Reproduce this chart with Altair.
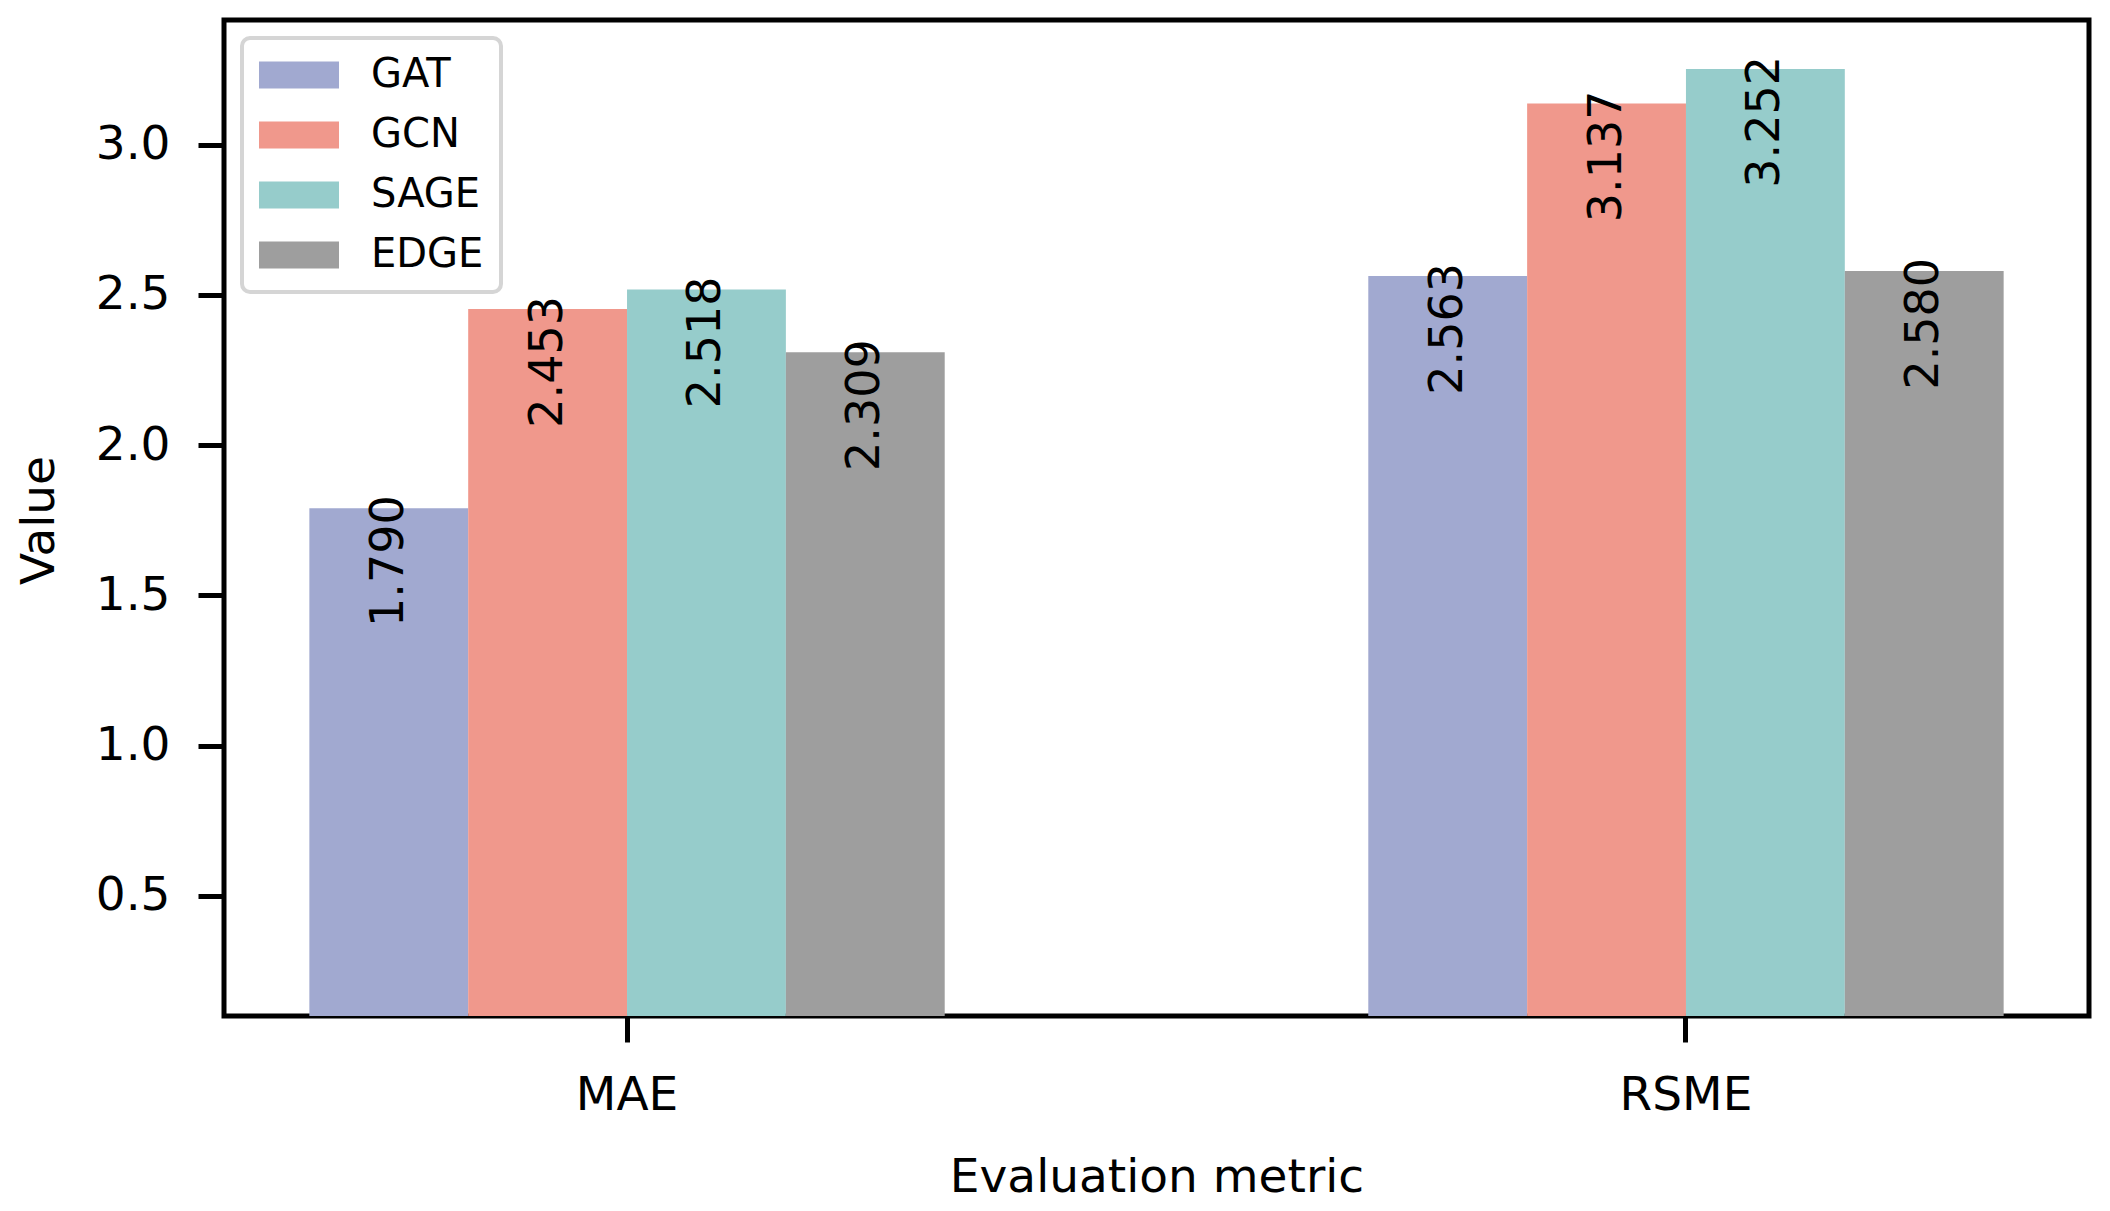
import altair as alt
import pandas as pd

metrics = ["MAE", "RSME"]
models = ["GAT", "GCN", "SAGE", "EDGE"]
mae_values = [1.790, 2.453, 2.518, 2.309]
rsme_values = [2.563, 3.137, 3.252, 2.580]
colors = ["#A1A9D0", "#F0988C", "#96CCCB", "#9E9E9E"]
y_ticks = [0.5, 1.0, 1.5, 2.0, 2.5, 3.0]

rows = []
for m, vals in zip(metrics, [mae_values, rsme_values]):
    for mod, v in zip(models, vals):
        rows.append({"metric": m, "model": mod, "value": v})
df = pd.DataFrame(rows)

FONT = "DejaVu Sans"
W, H = 1865, 996

x_enc = alt.X(
    "metric:N", sort=metrics,
    scale=alt.Scale(paddingInner=0.4, paddingOuter=0.0806),
    axis=alt.Axis(
        title="Evaluation metric", labelAngle=0, labelFontSize=47, labelFont=FONT,
        labelColor="black", labelPadding=30, tickSize=26, tickWidth=5, tickColor="black",
        domain=False, titleFontSize=47, titleFont=FONT, titleFontWeight="normal",
        titleColor="black", titleX=W / 2, titleY=175, titleBaseline="alphabetic",
        titleAlign="center",
    ),
)
xoff_enc = alt.XOffset("model:N", sort=models, scale=alt.Scale(paddingInner=0, paddingOuter=0))
y_enc = alt.Y(
    "value:Q",
    scale=alt.Scale(domain=[0.1, 3.415], nice=False, zero=False),
    axis=alt.Axis(
        title="Value", values=y_ticks, format=".1f", labelFontSize=47, labelFont=FONT,
        labelColor="black", labelPadding=28, tickSize=26, tickWidth=5, tickColor="black",
        grid=False, domain=False, titleFontSize=47, titleFont=FONT, titleFontWeight="normal",
        titleColor="black", titleX=-171, titleY=500, titleAngle=270,
        titleBaseline="alphabetic", titleAlign="center",
    ),
)
color_enc = alt.Color(
    "model:N", sort=models,
    scale=alt.Scale(domain=models, range=colors),
    legend=alt.Legend(
        title=None, orient="none", legendX=18, legendY=18,
        symbolType="M-1,-0.675L3,-0.675L3,0.675L-1,0.675Z", symbolSize=1600,
        symbolStrokeWidth=0, symbolOpacity=1, labelFontSize=40, labelFont=FONT,
        labelColor="black", labelOffset=72, rowPadding=20, padding=17,
        strokeColor="#d5d5d5", cornerRadius=8, fillColor="white",
    ),
)

bars = alt.Chart(df).mark_bar(clip=True, opacity=1).encode(
    x=x_enc, xOffset=xoff_enc, y=y_enc, color=color_enc
)
labels = alt.Chart(df).mark_text(
    angle=270, align="right", baseline="middle", dx=13, fontSize=46, font=FONT, color="black"
).encode(
    x=alt.X("metric:N", sort=metrics),
    xOffset=alt.XOffset("model:N", sort=models),
    y=alt.Y("value:Q"),
    text=alt.Text("value:Q", format=".3f"),
)

chart = alt.layer(bars, labels).properties(
    width=W, height=H,
    autosize=alt.AutoSizeParams(type="none"),
    padding={"left": 216, "top": 12, "right": 8, "bottom": 185},
    background="white",
).configure_view(stroke="black", strokeWidth=5).configure_legend(strokeWidth=4)

chart.save("out.html", embed_options={"renderer": "svg", "actions": False})
